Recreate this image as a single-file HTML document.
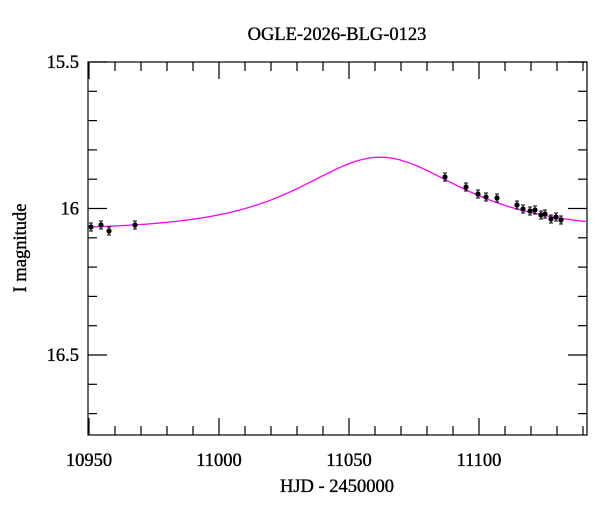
<!DOCTYPE html>
<html><head><meta charset="utf-8"><style>
body{margin:0;background:#fff}
svg{display:block;font-family:"Liberation Serif",serif}
text{stroke:#000;stroke-width:0.35}
</style></head><body>
<svg id="s" width="600" height="512" xmlns="http://www.w3.org/2000/svg">
<text x="337" y="40" text-anchor="middle" font-size="18.5">OGLE-2026-BLG-0123</text>
<text x="337" y="492" text-anchor="middle" font-size="18.5">HJD - 2450000</text>
<text transform="translate(26,248) rotate(-90)" text-anchor="middle" font-size="18.5">I magnitude</text>
<g id="ax" stroke="#000" stroke-width="1.2" fill="none"></g>
<g id="lab" font-size="18.5" fill="#000"></g>
<path id="curve" fill="none" stroke="#ff00ff" stroke-width="1.3"/>
<g id="pts"></g>
</svg>
<script>
const L=88,R=587,T=62,B=435;
const X=t=>89+(t-10950)*2.6, Y=m=>62+(m-15.5)*293;
const ax=document.getElementById('ax'),lab=document.getElementById('lab');
let h=`<rect x="${L}" y="${T}" width="${R-L}" height="${B-T}"/>`;
for(let t=10950;t<=11140;t+=10){const x=X(t),maj=t%50==0,l=maj?17:9;
h+=`<line x1="${x}" y1="${B}" x2="${x}" y2="${B-l}"/><line x1="${x}" y1="${T}" x2="${x}" y2="${T+l}"/>`;
if(maj)lab.innerHTML+=`<text x="${x}" y="466" text-anchor="middle">${t}</text>`;}
for(let i=0;i<=12;i++){const m=15.5+i*0.1,y=Y(m),maj=i%5==0,l=maj?19:9;
h+=`<line x1="${L}" y1="${y}" x2="${L+l}" y2="${y}"/><line x1="${R}" y1="${y}" x2="${R-l}" y2="${y}"/>`;
if(maj)lab.innerHTML+=`<text x="79" y="${y+6}" text-anchor="end">${[15.5,16,16.5][i/5]}</text>`;}
ax.innerHTML=h;
const u0=1.05,tE=36,t0=11062,m0=16.075;
const A=u=>(u*u+2)/(u*Math.sqrt(u*u+4));const A0=Math.log10(A(u0));
let d='';for(let t=10949.6;t<=11141.5;t+=0.5){const tau=(t-t0)/tE,u=Math.sqrt(u0*u0+tau*tau);
const m=m0-0.25*Math.log10(A(u))/A0;d+=(d?'L':'M')+X(t).toFixed(1)+','+Y(m).toFixed(1);}
document.getElementById('curve').setAttribute('d',d);
const P=[[91,227],[101,225],[109,231],[135,225],[445,177],[466,187],[478,194],[486,197],[497,198],[517,205],[523,209],[530,211],[535,210],[541,215],[545,214],[551,219],[556,217],[561,220]];
let p='';for(const[x,y]of P){p+=`<line x1="${x}" y1="${y-4}" x2="${x}" y2="${y+4}" stroke="#000"/><line x1="${x-2}" y1="${y-4}" x2="${x+2}" y2="${y-4}" stroke="#000"/><line x1="${x-2}" y1="${y+4}" x2="${x+2}" y2="${y+4}" stroke="#000"/><circle cx="${x}" cy="${y}" r="2.6" fill="#000"/>`;}
document.getElementById('pts').innerHTML=p;
</script>
</body></html>
